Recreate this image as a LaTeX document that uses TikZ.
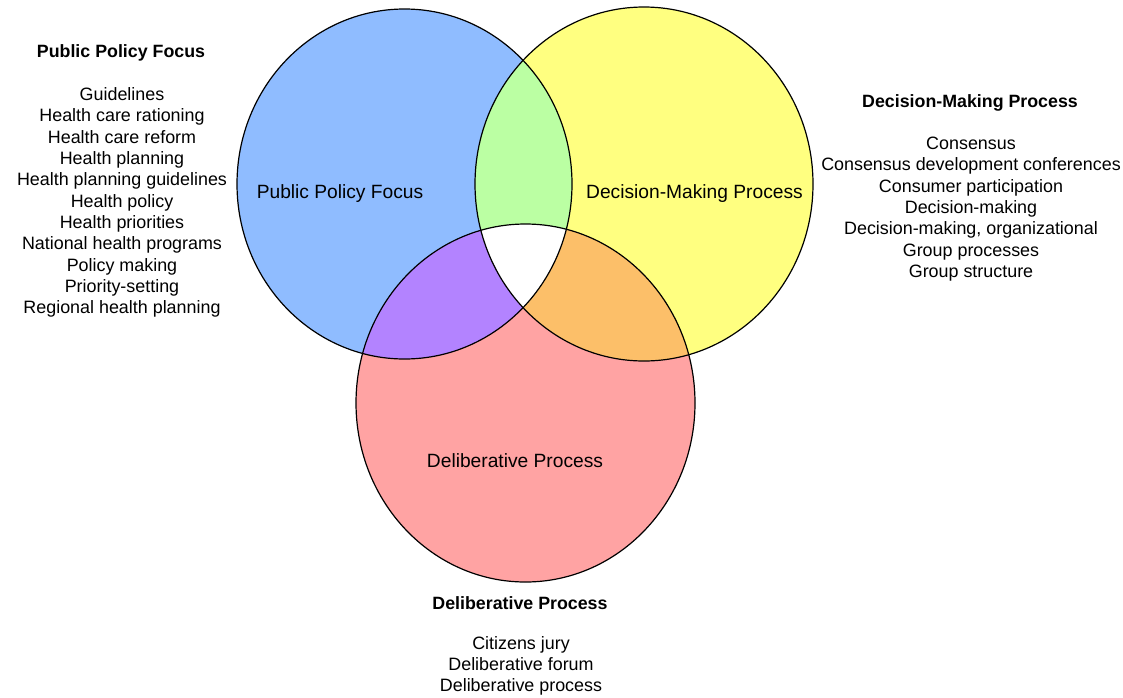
\documentclass[tikz,border=0pt]{standalone}
\usepackage{fontspec}
\setmainfont{Liberation Sans}
\definecolor{cblue}{RGB}{143,188,255}
\definecolor{cyellow}{RGB}{255,255,128}
\definecolor{cgreen}{RGB}{187,255,163}
\definecolor{cpurple}{RGB}{179,131,255}
\definecolor{corange}{RGB}{252,191,105}
\definecolor{cpink}{RGB}{255,163,163}
\begin{document}
\begin{tikzpicture}[x=1pt,y=-1pt,
  txt/.style={inner sep=0pt,align=center,font=\fontsize{17.9}{21.3}\selectfont},
  ttl/.style={inner sep=0pt,align=center,font=\fontsize{17.8}{20}\selectfont\bfseries},
  lbl/.style={inner sep=0pt,font=\fontsize{19.2}{20}\selectfont},
  outline/.style={draw=black,line width=1.2pt}]
\useasboundingbox (0,0) rectangle (1123,697);
\coordinate (B) at (404.5,184);
\coordinate (Y) at (644,184);
\coordinate (P) at (525.5,403);
\def\blueshape{(B) ellipse [x radius=167.5, y radius=175]}
\def\yellowshape{(Y) ellipse [x radius=169, y radius=177]}
\def\pinkshape{(P) ellipse [x radius=169.5, y radius=179]}
\fill[cblue] \blueshape;
\fill[cyellow] \yellowshape;
\fill[cpink] \pinkshape;
\begin{scope}
  \clip \blueshape;
  \fill[cgreen] \yellowshape;
  \fill[cpurple] \pinkshape;
\end{scope}
\begin{scope}
  \clip \yellowshape;
  \fill[corange] \pinkshape;
\end{scope}
\begin{scope}
  \clip \blueshape;
  \clip \yellowshape;
  \fill[white] \pinkshape;
\end{scope}
\draw[outline] \blueshape;
\draw[outline] \yellowshape;
\draw[outline] \pinkshape;
% inner labels
\node[lbl] (lblB) at (340,194) {Public Policy Focus};
\node[lbl] (lblY) at (694.5,194) {Decision-Making Process};
\node[lbl] (lblP) at (515,461) {Deliberative Process};
% left list
\node[ttl] (tB) at (121,53) {Public Policy Focus};
\node[txt] (listB) at (122,202.5) {Guidelines\\Health care rationing\\Health care reform\\Health planning\\Health planning guidelines\\Health policy\\Health priorities\\National health programs\\Policy making\\Priority-setting\\Regional health planning};
% right list
\node[ttl] (tY) at (970,103) {Decision-Making Process};
\node[txt] (listY) at (971,209) {Consensus\\Consensus development conferences\\Consumer participation\\Decision-making\\Decision-making, organizational\\Group processes\\Group structure};
% bottom list
\node[ttl] (tP) at (520,603) {Deliberative Process};
\node[txt] (listP) at (521,666) {Citizens jury\\Deliberative forum\\Deliberative process};
\end{tikzpicture}
\end{document}
